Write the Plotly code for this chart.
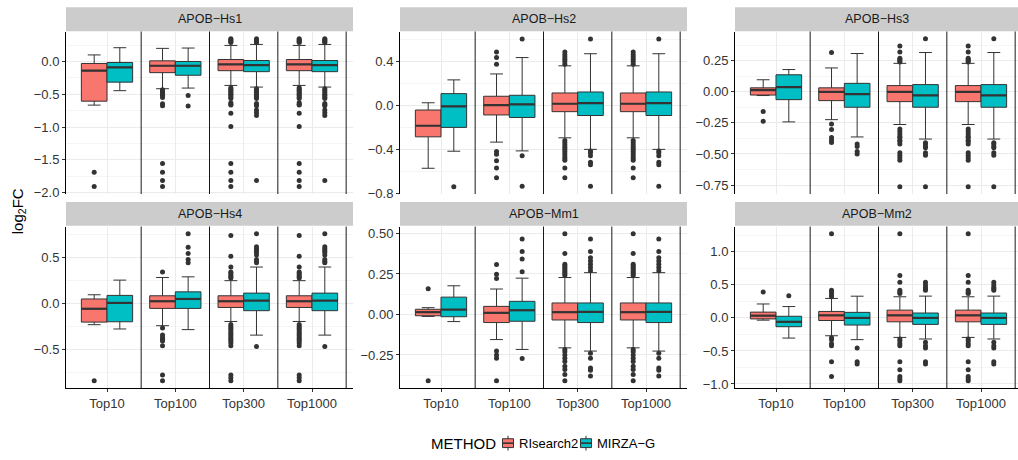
import plotly.graph_objects as go

# ---------------- data ----------------
CATEGORIES = ["Top10", "Top100", "Top300", "Top1000"]
METHODS = ["RIsearch2", "MIRZA−G"]
COLORS = ["#F8766D", "#00BFC4"]
PANELS = ["APOB−Hs1", "APOB−Hs2", "APOB−Hs3", "APOB−Hs4", "APOB−Mm1", "APOB−Mm2"]

# APOB-Hs1
hs1_ri = dict(lo=[-0.665, -0.415, -0.365, -0.365], q1=[-0.605, -0.17, -0.14, -0.14],
              med=[-0.14, -0.065, -0.045, -0.045], q3=[-0.03, 0.01, 0.03, 0.03],
              hi=[0.10, 0.20, 0.245, 0.245])
hs1_ri_out = [[-1.69, -1.905],
              [-0.43, -0.45, -0.47, -0.50, -0.52, -0.55, -0.645, -0.675, -1.555, -1.69, -1.815, -1.905],
              [0.345, 0.33, 0.315, 0.30, 0.29, -0.40, -0.42, -0.44, -0.46, -0.48, -0.50, -0.52, -0.545,
               -0.565, -0.63, -0.65, -0.665, -0.79, -0.99, -1.555, -1.69, -1.815, -1.905],
              [0.345, 0.33, 0.315, 0.30, 0.29, -0.40, -0.42, -0.44, -0.46, -0.48, -0.50, -0.52, -0.545,
               -0.565, -0.63, -0.65, -0.665, -0.79, -0.99, -1.555, -1.69, -1.815, -1.905]]
hs1_mg = dict(lo=[-0.445, -0.405, -0.39, -0.39], q1=[-0.315, -0.21, -0.155, -0.155],
              med=[-0.09, -0.065, -0.055, -0.055], q3=[-0.015, 0.0, 0.015, 0.015],
              hi=[0.21, 0.205, 0.26, 0.26])
hs1_mg_out = [[],
              [-0.52, -0.68],
              [0.345, 0.33, 0.315, 0.30, 0.285, -0.415, -0.44, -0.47, -0.50, -0.52, -0.545, -0.565,
               -0.64, -0.66, -0.675, -0.74, -0.78, -0.825, -1.815],
              [0.345, 0.33, 0.315, 0.30, 0.285, -0.415, -0.44, -0.47, -0.50, -0.52, -0.545, -0.565,
               -0.64, -0.66, -0.675, -0.74, -0.78, -0.825, -1.815]]

# APOB-Hs2
hs2_ri = dict(lo=[-0.572, -0.334, -0.295, -0.295], q1=[-0.286, -0.087, -0.057, -0.057],
              med=[-0.185, 0.003, 0.015, 0.015], q3=[-0.042, 0.083, 0.113, 0.113],
              hi=[0.024, 0.286, 0.36, 0.36])
hs2_ri_out = [[],
              [0.485, 0.435, 0.375, -0.42, -0.444, -0.503, -0.569, -0.658],
              [0.485, 0.46, 0.44, 0.42, 0.40, 0.375, -0.32, -0.34, -0.36, -0.38, -0.40, -0.42, -0.44,
               -0.46, -0.48, -0.50, -0.569, -0.658],
              [0.485, 0.46, 0.44, 0.42, 0.40, 0.375, -0.32, -0.34, -0.36, -0.38, -0.40, -0.42, -0.44,
               -0.46, -0.48, -0.50, -0.569, -0.658]]
hs2_mg = dict(lo=[-0.417, -0.414, -0.40, -0.40], q1=[-0.2, -0.11, -0.092, -0.092],
              med=[-0.009, 0.009, 0.021, 0.021], q3=[0.107, 0.092, 0.122, 0.122],
              hi=[0.232, 0.435, 0.47, 0.47])
hs2_mg_out = [[-0.739],
              [0.605, -0.459, -0.735],
              [0.605, -0.414, -0.43, -0.459, -0.518, -0.539, -0.735],
              [0.605, -0.414, -0.43, -0.459, -0.518, -0.539, -0.735]]

# APOB-Hs3
hs3_ri = dict(lo=[-0.03, -0.224, -0.263, -0.263], q1=[-0.026, -0.071, -0.079, -0.079],
              med=[0.013, 0.0, 0.0, 0.0], q3=[0.032, 0.032, 0.05, 0.05],
              hi=[0.097, 0.192, 0.229, 0.229])
hs3_ri_out = [[-0.158, -0.237],
              [0.316, -0.258, -0.303, -0.368, -0.389, -0.408],
              [0.368, 0.321, 0.27, 0.26, 0.25, 0.24, -0.30, -0.32, -0.34, -0.36, -0.37, -0.39, -0.40,
               -0.42, -0.49, -0.51, -0.53, -0.55, -0.763],
              [0.368, 0.321, 0.27, 0.26, 0.25, 0.24, -0.30, -0.32, -0.34, -0.36, -0.37, -0.39, -0.40,
               -0.42, -0.49, -0.51, -0.53, -0.55, -0.763]]
hs3_mg = dict(lo=[-0.242, -0.363, -0.38, -0.38], q1=[-0.063, -0.124, -0.124, -0.124],
              med=[0.037, -0.018, -0.029, -0.029], q3=[0.137, 0.068, 0.058, 0.058],
              hi=[0.179, 0.308, 0.316, 0.316])
hs3_mg_out = [[],
              [-0.42, -0.44, -0.48, -0.50],
              [0.426, -0.41, -0.42, -0.44, -0.45, -0.49, -0.51, -0.763],
              [0.426, -0.41, -0.42, -0.44, -0.45, -0.49, -0.51, -0.763]]

# APOB-Hs4
hs4_ri = dict(lo=[-0.231, -0.242, -0.196, -0.196], q1=[-0.203, -0.053, -0.043, -0.043],
              med=[-0.057, 0.025, 0.025, 0.025], q3=[0.05, 0.085, 0.085, 0.085],
              hi=[0.096, 0.285, 0.25, 0.25])
hs4_ri_out = [[-0.843],
              [0.345, -0.267, -0.345, -0.37, -0.39, -0.41, -0.46, -0.78, -0.843],
              [0.744, 0.516, 0.399, 0.345, 0.33, 0.31, 0.29, 0.28, -0.23, -0.25, -0.27, -0.29, -0.31,
               -0.33, -0.35, -0.37, -0.39, -0.41, -0.43, -0.46, -0.78, -0.81, -0.843],
              [0.744, 0.516, 0.399, 0.345, 0.33, 0.31, 0.29, 0.28, -0.23, -0.25, -0.27, -0.29, -0.31,
               -0.33, -0.35, -0.37, -0.39, -0.41, -0.43, -0.46, -0.78, -0.81, -0.843]]
hs4_mg = dict(lo=[-0.278, -0.285, -0.345, -0.345], q1=[-0.199, -0.053, -0.078, -0.078],
              med=[0.007, 0.05, 0.032, 0.032], q3=[0.089, 0.128, 0.114, 0.114],
              hi=[0.256, 0.292, 0.399, 0.399])
hs4_mg_out = [[],
              [0.762, 0.616, 0.548, 0.48, 0.445],
              [0.762, 0.62, 0.60, 0.58, 0.56, 0.53, 0.48, 0.46, 0.445, -0.47],
              [0.762, 0.62, 0.60, 0.58, 0.56, 0.53, 0.48, 0.46, 0.445, -0.47]]

# APOB-Mm1
mm1_ri = dict(lo=[-0.012, -0.155, -0.206, -0.206], q1=[-0.008, -0.05, -0.034, -0.034],
              med=[0.014, 0.01, 0.014, 0.014], q3=[0.032, 0.05, 0.071, 0.071],
              hi=[0.042, 0.157, 0.228, 0.228])
mm1_ri_out = [[0.159, -0.409],
              [0.308, 0.248, 0.222, -0.226, -0.25, -0.27, -0.409],
              [0.498, 0.377, 0.31, 0.30, 0.29, 0.28, 0.27, 0.26, 0.25, 0.24, -0.216, -0.23, -0.25,
               -0.27, -0.29, -0.32, -0.34, -0.37, -0.409],
              [0.498, 0.377, 0.31, 0.30, 0.29, 0.28, 0.27, 0.26, 0.25, 0.24, -0.216, -0.23, -0.25,
               -0.27, -0.29, -0.32, -0.34, -0.37, -0.409]]
mm1_mg = dict(lo=[-0.044, -0.216, -0.226, -0.226], q1=[-0.014, -0.042, -0.05, -0.05],
              med=[0.03, 0.026, 0.016, 0.016], q3=[0.107, 0.081, 0.071, 0.071],
              hi=[0.177, 0.224, 0.258, 0.258])
mm1_mg_out = [[],
              [0.466, 0.389, 0.343, 0.264, -0.272],
              [0.466, 0.389, 0.35, 0.33, 0.31, 0.29, 0.27, -0.24, -0.27, -0.33, -0.345, -0.38],
              [0.466, 0.389, 0.35, 0.33, 0.31, 0.29, 0.27, -0.24, -0.27, -0.33, -0.345, -0.38]]

# APOB-Mm2
mm2_ri = dict(lo=[-0.034, -0.27, -0.295, -0.295], q1=[-0.015, -0.039, -0.059, -0.059],
              med=[0.034, 0.039, 0.039, 0.039], q3=[0.088, 0.098, 0.118, 0.118],
              hi=[0.211, 0.295, 0.32, 0.32])
mm2_ri_out = [[0.393],
              [1.273, 0.42, 0.39, 0.35, 0.32, -0.30, -0.33, -0.39, -0.42, -0.663, -0.885],
              [1.273, 0.644, 0.54, 0.42, 0.39, 0.37, -0.32, -0.35, -0.39, -0.42, -0.663, -0.786,
               -0.885, -0.92, -0.95],
              [1.273, 0.644, 0.54, 0.42, 0.39, 0.37, -0.32, -0.35, -0.39, -0.42, -0.663, -0.786,
               -0.885, -0.92, -0.95]]
mm2_mg = dict(lo=[-0.305, -0.329, -0.319, -0.319], q1=[-0.133, -0.108, -0.098, -0.098],
              med=[-0.059, 0.0, 0.0, 0.0], q3=[0.025, 0.084, 0.074, 0.074],
              hi=[0.172, 0.329, 0.33, 0.33])
mm2_mg_out = [[0.334],
              [-0.457, -0.663, -0.698],
              [0.54, 0.50, 0.46, 0.44, 0.42, -0.37, -0.42, -0.457, -0.663, -0.698],
              [0.54, 0.50, 0.46, 0.44, 0.42, -0.37, -0.42, -0.457, -0.663, -0.698]]

STATS = [
    [(hs1_ri, hs1_ri_out), (hs1_mg, hs1_mg_out)],
    [(hs2_ri, hs2_ri_out), (hs2_mg, hs2_mg_out)],
    [(hs3_ri, hs3_ri_out), (hs3_mg, hs3_mg_out)],
    [(hs4_ri, hs4_ri_out), (hs4_mg, hs4_mg_out)],
    [(mm1_ri, mm1_ri_out), (mm1_mg, mm1_mg_out)],
    [(mm2_ri, mm2_ri_out), (mm2_mg, mm2_mg_out)],
]

# y-axis ticks per panel
Y_TICKS = [
    [-2.0, -1.5, -1.0, -0.5, 0.0],
    [-0.8, -0.4, 0.0, 0.4],
    [-0.75, -0.50, -0.25, 0.00, 0.25],
    [-0.5, 0.0, 0.5],
    [-0.25, 0.00, 0.25, 0.50],
    [-1.0, -0.5, 0.0, 0.5, 1.0],
]
Y_DECIMALS = [1, 1, 2, 1, 2, 1]
Y_MINOR = [
    [-1.75, -1.25, -0.75, -0.25, 0.25],
    [-0.6, -0.2, 0.2, 0.6],
    [-0.625, -0.375, -0.125, 0.125, 0.375],
    [-0.75, -0.25, 0.25, 0.75],
    [-0.375, -0.125, 0.125, 0.375],
    [-0.75, -0.25, 0.25, 0.75, 1.25],
]
Y_RANGES = [
    [-2.02, 0.457],
    [-0.806, 0.672],
    [-0.822, 0.485],
    [-0.923, 0.842],
    [-0.454, 0.543],
    [-1.061, 1.384],
]

# ---------------- layout geometry (pixels) ----------------
W, H = 1018, 460
COL_PX = [(66, 353), (400, 687), (735, 1018)]
ROW_PX = [(32, 197), (230, 394)]
STRIP_PX = [(7.3, 31.7), (205, 229.3)]
UNIT_PX = 287 / 4.2
BOX_W = 0.375
DODGE = 0.1875
FONT = "Liberation Sans, Arial, sans-serif"
DARK = "#333333"


def px(x):
    return x / W


def py(y):
    return 1 - y / H


fig = go.Figure()
shapes = []
annotations = []
layout = {}

for i, panel in enumerate(PANELS):
    r, c = divmod(i, 3)
    sfx = "" if i == 0 else str(i + 1)
    xa, ya = "x" + sfx, "y" + sfx
    x0p, x1p = COL_PX[c]
    y0p, y1p = ROW_PX[r]
    xmax = 0.4 + (x1p - x0p) / UNIT_PX
    cat_pos = list(range(1, len(CATEGORIES) + 1))

    for m, (method, color) in enumerate(zip(METHODS, COLORS)):
        st, outs = STATS[i][m]
        off = -DODGE if m == 0 else DODGE
        pos = [p + off for p in cat_pos]
        fig.add_trace(go.Box(
            x=pos, q1=st["q1"], median=st["med"], q3=st["q3"],
            lowerfence=st["lo"], upperfence=st["hi"], width=BOX_W,
            boxpoints=False, fillcolor=color, line=dict(color=DARK, width=1),
            name=method, showlegend=False, xaxis=xa, yaxis=ya, hoverinfo="skip"))
        # thicker median
        mx, my = [], []
        for p, md in zip(pos, st["med"]):
            mx += [p - BOX_W / 2, p + BOX_W / 2, None]
            my += [md, md, None]
        fig.add_trace(go.Scatter(x=mx, y=my, mode="lines", line=dict(color=DARK, width=2.2),
                                 showlegend=False, xaxis=xa, yaxis=ya, hoverinfo="skip"))
        ox, oy = [], []
        for p, o in zip(pos, outs):
            ox += [p] * len(o)
            oy += o
        fig.add_trace(go.Scatter(x=ox, y=oy, mode="markers",
                                 marker=dict(color=DARK, size=5, line=dict(width=0)),
                                 showlegend=False, xaxis=xa, yaxis=ya, hoverinfo="skip"))

    bottom = r == 1
    layout["xaxis" + sfx] = dict(
        domain=[px(x0p), px(x1p)], range=[0.4, xmax], anchor=ya,
        tickvals=cat_pos, ticktext=CATEGORIES, showticklabels=bottom,
        ticks="outside" if bottom else "", ticklen=3, tickcolor=DARK,
        showline=bottom, linecolor="black", linewidth=1,
        showgrid=True, gridcolor="#EBEBEB", gridwidth=1, zeroline=False,
        tickfont=dict(family=FONT, size=13, color=DARK), fixedrange=True)
    d = Y_DECIMALS[i]
    layout["yaxis" + sfx] = dict(
        domain=[py(y1p), py(y0p)], range=Y_RANGES[i], anchor=xa,
        tickvals=Y_TICKS[i],
        ticktext=[f"{v:.{d}f}".replace("-", "−") for v in Y_TICKS[i]],
        ticks="outside", ticklen=3, tickcolor=DARK,
        showline=True, linecolor="black", linewidth=1,
        showgrid=True, gridcolor="#EBEBEB", gridwidth=1, zeroline=False,
        minor=dict(tickvals=Y_MINOR[i], showgrid=True, gridcolor="#F5F5F5", gridwidth=0.6, ticks=""),
        tickfont=dict(family=FONT, size=13, color=DARK), fixedrange=True)

    # separators between categories
    for k in range(len(CATEGORIES)):
        xv = cat_pos[k] + 0.5
        shapes.append(dict(type="line", xref=xa, yref=ya + " domain", x0=xv, x1=xv, y0=0, y1=1,
                           line=dict(color="#1a1a1a", width=1), layer="above"))
    # strip
    s0, s1 = STRIP_PX[r]
    shapes.append(dict(type="rect", xref="paper", yref="paper", x0=px(x0p), x1=px(x1p),
                       y0=py(s1), y1=py(s0), fillcolor="#CCCCCC", line=dict(width=0), layer="below"))
    annotations.append(dict(text=panel, xref="paper", yref="paper",
                            x=px((x0p + min(x1p, x0p + 287)) / 2), y=py((s0 + s1) / 2),
                            showarrow=False, xanchor="center", yanchor="middle",
                            font=dict(family=FONT, size=12.5, color="#1a1a1a")))

# y-axis title
annotations.append(dict(text="log<sub>2</sub>FC", xref="paper", yref="paper", x=px(18.5), y=py(215),
                        textangle=-90, showarrow=False, xanchor="center", yanchor="middle",
                        font=dict(family=FONT, size=15, color="black")))

# legend (drawn manually, ggplot style)
LEG_Y = 450
annotations.append(dict(text="METHOD", xref="paper", yref="paper", x=px(429), y=py(LEG_Y),
                        showarrow=False, xanchor="left", yanchor="middle",
                        font=dict(family=FONT, size=15, color="black")))
key_x = [502.5, 580.5]
for (method, color), kx in zip(zip(METHODS, COLORS), key_x):
    shapes.append(dict(type="line", xref="paper", yref="paper", x0=px(kx + 5.5), x1=px(kx + 5.5),
                       y0=py(LEG_Y - 7.5), y1=py(LEG_Y + 7.5), line=dict(color=DARK, width=1)))
    shapes.append(dict(type="rect", xref="paper", yref="paper", x0=px(kx), x1=px(kx + 11),
                       y0=py(LEG_Y + 4.5), y1=py(LEG_Y - 4.5), fillcolor=color,
                       line=dict(color=DARK, width=1)))
    shapes.append(dict(type="line", xref="paper", yref="paper", x0=px(kx), x1=px(kx + 11),
                       y0=py(LEG_Y), y1=py(LEG_Y), line=dict(color=DARK, width=1.6)))
    annotations.append(dict(text=method, xref="paper", yref="paper", x=px(kx + 14), y=py(LEG_Y),
                            showarrow=False, xanchor="left", yanchor="middle",
                            font=dict(family=FONT, size=13, color="black")))

fig.update_layout(
    width=W, height=H, margin=dict(l=0, r=0, t=0, b=0),
    paper_bgcolor="white", plot_bgcolor="white",
    showlegend=False, shapes=shapes, annotations=annotations,
    font=dict(family=FONT), **layout)

fig.write_html("out.html")
